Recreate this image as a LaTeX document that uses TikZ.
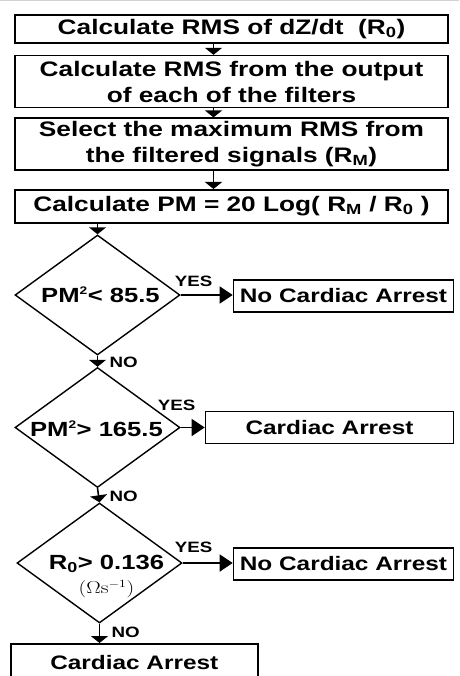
\documentclass[tikz,border=0pt]{standalone}
\usepackage[no-math]{fontspec}
\setmainfont{Liberation Sans}[FakeStretch=1.25]
\usepackage{graphicx}
\usepackage{tikz}
\usetikzlibrary{positioning,arrows.meta,shapes.geometric}

\begin{document}
\begin{tikzpicture}[
  x=1pt, y=-1pt,
  mainbox/.style={draw, line width=1.6pt, minimum width=433pt, inner sep=2pt, align=center, font=\fontsize{21}{26}\selectfont\bfseries},
  sidebox/.style={draw, line width=1.6pt, inner sep=2pt, minimum height=32pt, font=\fontsize{19.5}{22}\selectfont\bfseries},
  test/.style={draw, diamond, line width=1.4pt, minimum width=165pt, minimum height=120pt, inner sep=0pt},
  ttext/.style={inner sep=0pt, align=center, font=\fontsize{20.5}{22}\selectfont\bfseries},
  lbl/.style={inner sep=0pt, font=\fontsize{15}{15}\selectfont\bfseries},
  varr/.style={-{Triangle[length=7pt,width=17pt]}, line width=1.6pt},
  harr/.style={-{Triangle[length=13pt,width=17pt]}, line width=1.6pt}
]
  \useasboundingbox (0,0) rectangle (459,676);
  \draw[gray!35, line width=1pt] (0,1) -- (459,1);

  % processing steps
  \node[mainbox, minimum height=28pt] (b1) at (231.5,29) {Calculate RMS of dZ/dt~~(R\textsubscript{0})};
  \node[mainbox, minimum height=52pt, below=11pt of b1] (b2) {Calculate RMS from the output\\of each of the filters};
  \node[mainbox, minimum height=52pt, below=9pt of b2] (b3) {Select the maximum RMS from\\the filtered signals (R\textsubscript{M})};
  \node[mainbox, minimum height=33pt, below=18pt of b3] (b4) {Calculate PM = 20 Log( R\textsubscript{M} / R\textsubscript{0} )};

  % decisions
  \node[test] (d1) at (97.5,295) {};
  \node[test] (d2) at (97.5,427.5) {};
  \node[test] (d3) at (99.5,563) {};
  \node[ttext] (d1t) at ([xshift=3pt]d1.center) {PM\textsuperscript{\fontsize{11}{11}\selectfont 2}< 85.5};
  \node[ttext] (d2t) at ([xshift=-1pt,yshift=-1pt]d2.center) {PM\textsuperscript{\fontsize{11}{11}\selectfont 2}> 165.5};
  \node[ttext] (d3t) at ([xshift=7pt,yshift=-1pt]d3.center) {R\textsubscript{0}> 0.136};
  \node[inner sep=0pt] (d3u) at ([xshift=7pt,yshift=-26pt]d3.center) {\scalebox{1.25}[1]{\fontsize{16}{16}\selectfont$(\Omega\mathrm{s}^{-1})$}};

  % outcomes
  \node[sidebox, minimum width=220pt, right=52pt of d1, yshift=-1pt] (n1) {No Cardiac Arrest};
  \node[sidebox, minimum width=248pt, right=24pt of d2] (c2) {Cardiac Arrest};
  \node[sidebox, minimum width=220pt, right=50pt of d3, yshift=-1pt] (n3) {No Cardiac Arrest};
  \node[sidebox, minimum width=247pt, minimum height=38pt, anchor=north west] (c4) at (10,643) {Cardiac Arrest};

  % labels
  \node[lbl] (y1) at ([xshift=13pt,yshift=14pt]d1.east) {YES};
  \node[lbl] (y2) at ([xshift=-4pt,yshift=22pt]d2.east) {YES};
  \node[lbl] (y3) at ([xshift=11pt,yshift=16pt]d3.east) {YES};
  \node[lbl, anchor=west] (o1) at ([xshift=12pt,yshift=-7pt]d1.south) {NO};
  \node[lbl, anchor=west] (o2) at ([xshift=12pt,yshift=-8pt]d2.south) {NO};
  \node[lbl, anchor=west] (o3) at ([xshift=12pt,yshift=-9pt]d3.south) {NO};

  \draw[varr] ([xshift=-18pt]b1.south) -- ([xshift=-18pt]b2.north);
  \draw[varr] ([xshift=-18pt]b2.south) -- ([xshift=-18pt]b3.north);
  \draw[varr] ([xshift=-18pt]b3.south) -- ([xshift=-18pt]b4.north);
  \draw[varr] (b4.south -| d1.north) -- (d1.north);
  \draw[varr] (d1.south) -- (d2.north);
  \draw[varr] (d2.south) -- (d3.north);
  \draw[varr] (d3.south) -- (d3.south |- c4.north);
  \draw[harr] (d1.east) -- (d1.east -| n1.west);
  \draw[harr] (d2.east) -- (d2.east -| c2.west);
  \draw[harr] (d3.east) -- (d3.east -| n3.west);
\end{tikzpicture}
\end{document}
